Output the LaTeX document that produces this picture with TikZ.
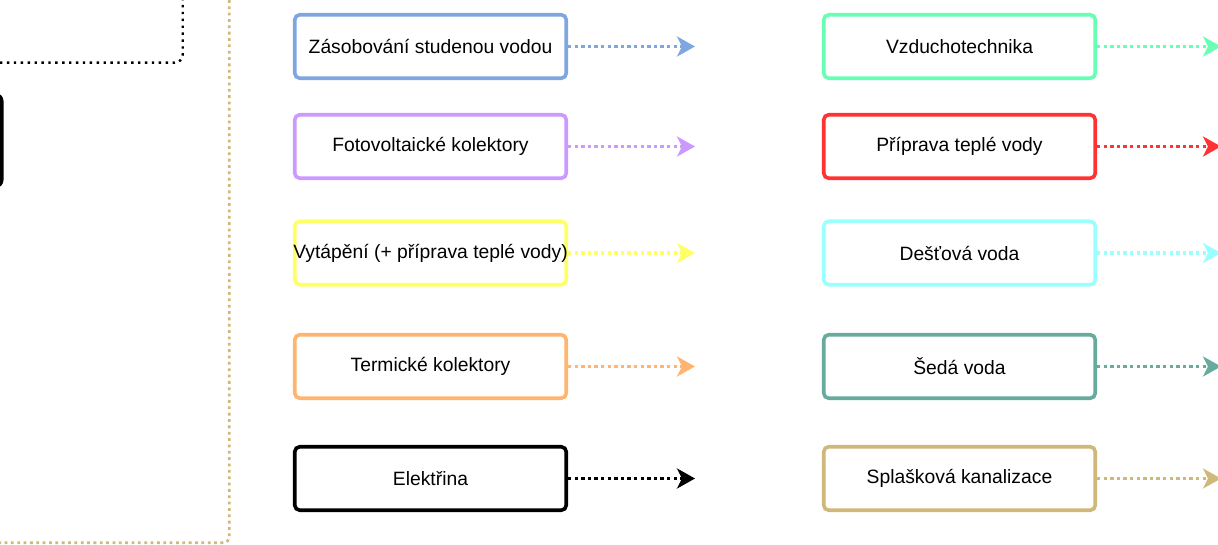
\documentclass[tikz,border=0pt]{standalone}
\usepackage{fontspec}
\setmainfont{Liberation Sans}
\usetikzlibrary{arrows.meta}

\definecolor{cblue}{HTML}{7EA6E0}
\definecolor{cpurple}{HTML}{CC99FF}
\definecolor{cyellow}{HTML}{FFFF66}
\definecolor{corange}{HTML}{FFB570}
\definecolor{cgreen}{HTML}{66FFB3}
\definecolor{cred}{HTML}{FF3333}
\definecolor{ccyan}{HTML}{99FFFF}
\definecolor{cteal}{HTML}{67AB9F}
\definecolor{cgold}{HTML}{D0B878}

\tikzset{
  sysbox/.style={draw, line width=3.6pt, rounded corners=5pt, fill=white,
    minimum width=271.5pt, minimum height=63.5pt, inner sep=0pt,
    font=\fontsize{19.3}{23}\selectfont, text=black},
  flow/.style={line width=3.4pt, dash pattern=on 3.4pt off 3.2pt,
    -{Stealth[length=18pt, width=20pt, inset=5pt, sep=0pt]}},
  blackdots/.style={draw=black, line width=2.4pt, dash pattern=on 2.4pt off 4.5pt, rounded corners=8pt},
  golddots/.style={draw=cgold, line width=2.8pt, dash pattern=on 2.8pt off 3.55pt, rounded corners=6pt},
}

\begin{document}
\begin{tikzpicture}[x=1pt, y=-1pt]
  \useasboundingbox (0,0) rectangle (1218,545);
  \clip (0,0) rectangle (1218,545);

  % neighbouring group outlines at the left edge
  \coordinate (bd0) at (0,62.7);
  \coordinate (bd1) at (182.7,62.7);
  \coordinate (bd2) at (182.7,0);
  \draw[blackdots] (bd0) -- (bd1) -- (bd2);
  \coordinate (gd0) at (229.3,0);
  \coordinate (gd1) at (229.3,542.7);
  \coordinate (gd2) at (0,542.7);
  \draw[golddots] (gd0) -- (gd1) -- (gd2);
  \node[draw=black, line width=4pt, rounded corners=6pt, inner sep=0pt,
        minimum width=200pt, minimum height=91pt, anchor=east] (side) at (3.5,140.5) {};

  % arrow tip columns
  \coordinate (ltip) at (695,0);
  \coordinate (rtip) at (1221,0);

  % left column
  \node[sysbox, draw=cblue]   (zas)  at (430.5,46.5)  {Zásobování studenou vodou};
  \node[sysbox, draw=cpurple] (fve)  at (430.5,146.5) {Fotovoltaické kolektory};
  \node[sysbox, draw=cyellow] (vyt)  at (430.5,253)   {\makebox[0pt]{Vytápění (+ příprava teplé vody)}};
  \node[sysbox, draw=corange] (term) at (430.5,366.5) {Termické kolektory};
  \node[sysbox, draw=black]   (ele)  at (430.5,478.5) {Elektřina};

  % right column
  \node[sysbox, draw=cgreen] (vzt)  at (959.5,46.5)  {Vzduchotechnika};
  \node[sysbox, draw=cred]   (tv)   at (959.5,146.5) {Příprava teplé vody};
  \node[sysbox, draw=ccyan]  (des)  at (959.5,253)   {Dešťová voda};
  \node[sysbox, draw=cteal]  (sed)  at (959.5,366.5) {Šedá voda};
  \node[sysbox, draw=cgold]  (spl)  at (959.5,478.5) {Splašková kanalizace};

  % outgoing flows
  \draw[flow, cblue]   (zas.east)  -- (zas.east -| ltip);
  \draw[flow, cpurple] (fve.east)  -- (fve.east -| ltip);
  \draw[flow, cyellow] (vyt.east)  -- (vyt.east -| ltip);
  \draw[flow, corange] (term.east) -- (term.east -| ltip);
  \draw[flow, black]   (ele.east)  -- (ele.east -| ltip);

  \draw[flow, cgreen] (vzt.east) -- (vzt.east -| rtip);
  \draw[flow, cred]   (tv.east)  -- (tv.east -| rtip);
  \draw[flow, ccyan]  (des.east) -- (des.east -| rtip);
  \draw[flow, cteal]  (sed.east) -- (sed.east -| rtip);
  \draw[flow, cgold]  (spl.east) -- (spl.east -| rtip);
\end{tikzpicture}
\end{document}
